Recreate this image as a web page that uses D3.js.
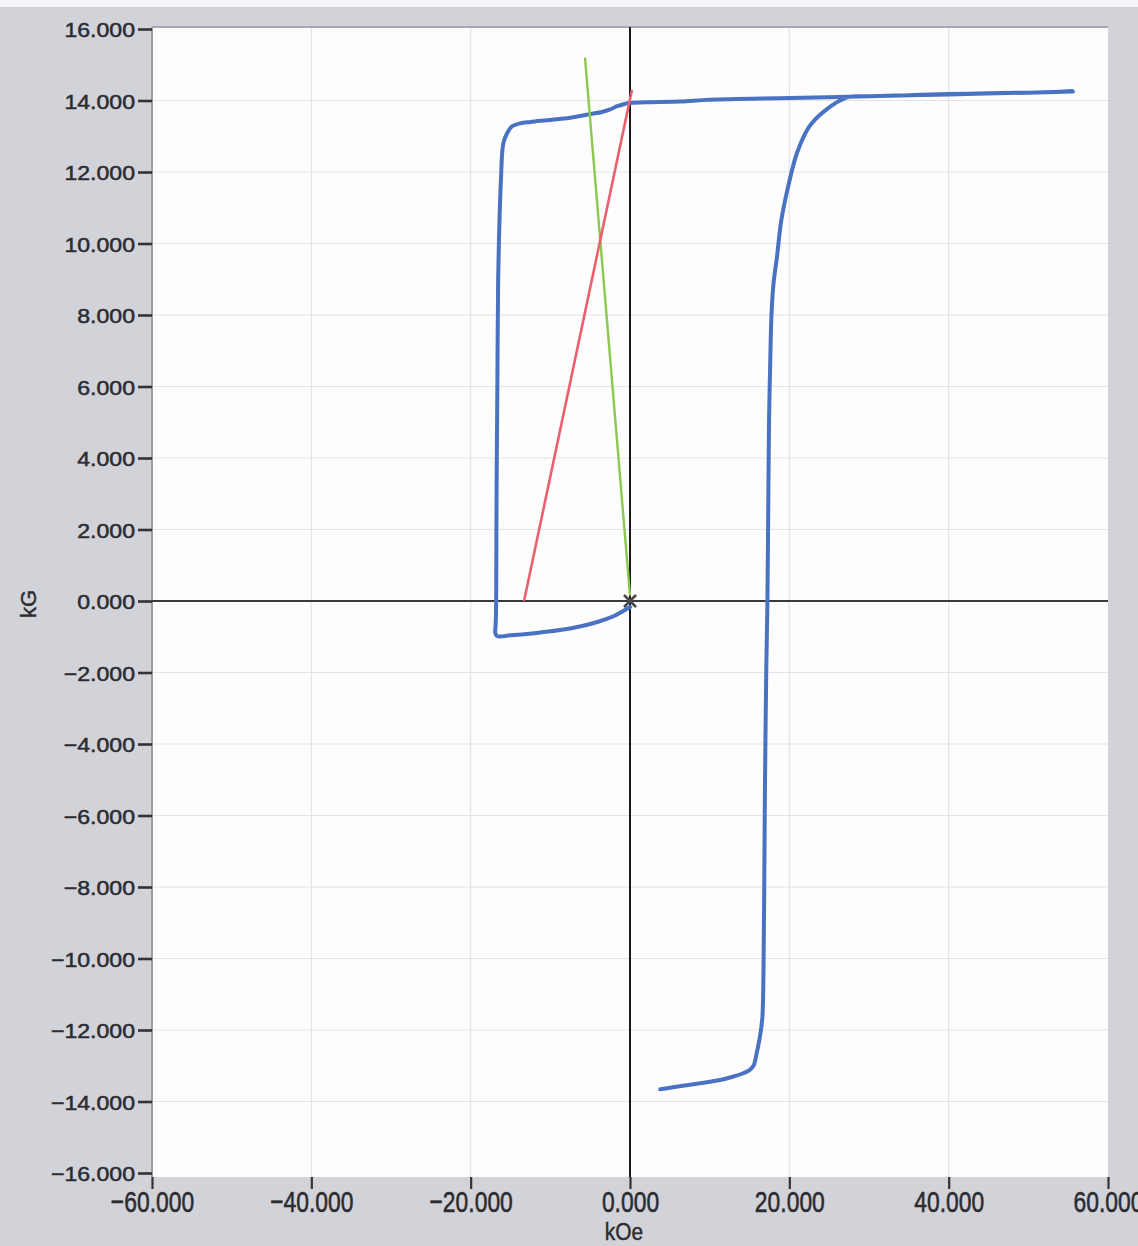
<!DOCTYPE html>
<html>
<head>
<meta charset="utf-8">
<script src="https://cdn.jsdelivr.net/npm/d3@7"></script>
<style>
  html, body { margin: 0; padding: 0; background: #ffffff; }
  svg { display: block; }
</style>
</head>
<body>
<div id="chart"></div>
<script>
// Axis ticks
const xTicks = [-60, -40, -20, 0, 20, 40, 60];
const yTicks = [-16, -14, -12, -10, -8, -6, -4, -2, 0, 2, 4, 6, 8, 10, 12, 14, 16];

// Measured B-H hysteresis loop (field kOe, induction kG), in trace order
const loopH = [3.8, 6.0, 8.8, 11.3, 13.0, 14.2, 15.0, 15.5, 15.9, 16.3, 16.6, 16.75, 16.85, 16.95, 17.1, 17.25, 17.35, 17.45, 17.58, 17.76, 18.0, 18.45, 19.0, 19.85, 20.97, 22.5, 24.6, 27.2, 30, 35, 40, 45, 50, 55.6,
               50, 40, 30, 20, 10, 6.3, 2, 0, -0.4, -1.0, -1.6, -2.5, -3.5, -5.0, -7.5, -10.4, -12.5, -13.8, -14.8, -15.4, -15.9, -16.2, -16.4, -16.55, -16.65, -16.75, -16.8, -16.85, -16.9, -16.7, -15, -12, -9, -6, -4, -2, -1, 0];
const loopB = [-13.66, -13.58, -13.49, -13.40, -13.30, -13.21, -13.12, -13.0, -12.65, -12.2, -11.7, -10.5, -8, -5, -2, 0, 2.5, 5.0, 6.45, 8.0, 8.85, 9.63, 10.66, 11.59, 12.54, 13.27, 13.74, 14.08, 14.12, 14.15, 14.18, 14.2, 14.22, 14.25,
               14.22, 14.17, 14.12, 14.07, 14.02, 13.97, 13.95, 13.93, 13.92, 13.88, 13.84, 13.75, 13.68, 13.62, 13.52, 13.45, 13.40, 13.36, 13.28, 13.1, 12.8, 11.78, 10.5, 9, 6, 3, 0, -0.6, -0.9, -0.98, -0.96, -0.9, -0.82, -0.7, -0.58, -0.42, -0.3, -0.17];

// Recoil / load lines
const redH = [-13.3, 0.25];
const redB = [0, 14.3];
const greenH = [-5.65, 0];
const greenB = [15.2, 0.15];

const W = 1138, Hgt = 1246;
const plot = { left: 152, right: 1108, top: 27, bottom: 1177 };
const FONT = "'Liberation Sans', Arial, sans-serif";
const INK = "#2b2b30";

const svg = d3.select("#chart").append("svg")
  .attr("width", W).attr("height", Hgt);

// page background
svg.append("rect").attr("x", 0).attr("y", 0).attr("width", W).attr("height", Hgt).attr("fill", "#d2d2d9");
svg.append("rect").attr("x", 0).attr("y", 0).attr("width", W).attr("height", 7).attr("fill", "#f4f4f6");

const x = d3.scaleLinear().domain([-60, 60]).range([plot.left, plot.right]);
const y = d3.scaleLinear().domain([-16, 16]).range([1173, 29]);

// plot area
svg.append("rect")
  .attr("x", plot.left).attr("y", plot.top)
  .attr("width", plot.right - plot.left).attr("height", plot.bottom - plot.top)
  .attr("fill", "#fdfdfd");

// grid
const grid = svg.append("g").attr("stroke", "#e4e4e8").attr("stroke-width", 1.2);
grid.selectAll("line.v").data(xTicks.filter(d => d !== 0 && Math.abs(d) !== 60)).join("line")
  .attr("x1", d => x(d)).attr("x2", d => x(d))
  .attr("y1", plot.top).attr("y2", plot.bottom);
grid.selectAll("line.h").data(yTicks.filter(d => d !== 0 && Math.abs(d) !== 16)).join("line")
  .attr("x1", plot.left).attr("x2", plot.right)
  .attr("y1", d => y(d)).attr("y2", d => y(d));

// plot frame (left and top edges)
svg.append("line").attr("x1", plot.left).attr("x2", plot.left).attr("y1", plot.top).attr("y2", plot.bottom)
  .attr("stroke", "#9c9ca6").attr("stroke-width", 2);
svg.append("line").attr("x1", plot.left).attr("x2", plot.right).attr("y1", plot.top).attr("y2", plot.top)
  .attr("stroke", "#a8a8b0").attr("stroke-width", 2);

// zero lines
svg.append("line").attr("x1", plot.left).attr("x2", plot.right).attr("y1", y(0)).attr("y2", y(0))
  .attr("stroke", "#3a3a3a").attr("stroke-width", 2);
svg.append("line").attr("x1", x(0)).attr("x2", x(0)).attr("y1", plot.top).attr("y2", plot.bottom)
  .attr("stroke", "#1a1a1a").attr("stroke-width", 2);

const fmt = d3.format(".3f");

// y axis
const yAxis = svg.append("g")
  .attr("transform", `translate(${plot.left},0)`)
  .call(d3.axisLeft(y).tickValues(yTicks).tickSize(14).tickFormat(fmt));
yAxis.select(".domain").remove();
yAxis.selectAll(".tick line").attr("stroke", "#333").attr("stroke-width", 2.6);
yAxis.selectAll(".tick text")
  .attr("x", 0).attr("dy", "0.36em")
  .attr("transform", "translate(-17,0) scale(1.1,1)")
  .attr("fill", INK).attr("stroke", INK).attr("stroke-width", 0.5)
  .style("font-family", FONT)
  .style("font-size", "21px");

// x axis
const xAxis = svg.append("g")
  .attr("transform", `translate(0,${plot.bottom})`)
  .call(d3.axisBottom(x).tickValues(xTicks).tickSize(12).tickFormat(fmt));
xAxis.select(".domain").remove();
xAxis.selectAll(".tick line").attr("stroke", "#333").attr("stroke-width", 2.2);
xAxis.selectAll(".tick text")
  .attr("y", 0).attr("dy", 0)
  .attr("transform", "translate(0,35) scale(0.88,1.17)")
  .attr("fill", INK).attr("stroke", INK).attr("stroke-width", 0.5)
  .style("font-family", FONT)
  .style("font-size", "26px");

// axis titles
svg.append("text")
  .attr("transform", "translate(624,1240) scale(0.95,1.1)")
  .attr("text-anchor", "middle")
  .attr("fill", INK).attr("stroke", INK).attr("stroke-width", 0.4)
  .style("font-family", FONT)
  .style("font-size", "22px")
  .text("kOe");
svg.append("text")
  .attr("transform", "translate(36,604) rotate(-90)")
  .attr("text-anchor", "middle")
  .attr("fill", INK).attr("stroke", INK).attr("stroke-width", 0.4)
  .style("font-family", FONT)
  .style("font-size", "22px")
  .text("kG");

// series
const line = d3.line().x(d => x(d[0])).y(d => y(d[1]));
const loop = loopH.map((h, i) => [h, loopB[i]]);
const red = redH.map((h, i) => [h, redB[i]]);
const green = greenH.map((h, i) => [h, greenB[i]]);

svg.append("path").datum(loop).attr("d", line.curve(d3.curveCatmullRom.alpha(0.5)))
  .attr("fill", "none").attr("stroke", "#4a72c2").attr("stroke-width", 4)
  .attr("stroke-linejoin", "round").attr("stroke-linecap", "round");

line.curve(d3.curveLinear);
svg.append("path").datum(green).attr("d", line)
  .attr("fill", "none").attr("stroke", "#8cc850").attr("stroke-width", 2.4);
svg.append("path").datum(red).attr("d", line)
  .attr("fill", "none").attr("stroke", "#ea5f6c").attr("stroke-width", 2.6);

// origin marker
const mk = svg.append("g").attr("transform", `translate(${x(0)},${y(0)})`)
  .attr("stroke", "#4a4a4a").attr("stroke-width", 2.6);
mk.append("line").attr("x1", -6).attr("y1", -6).attr("x2", 6).attr("y2", 6);
mk.append("line").attr("x1", -6).attr("y1", 6).attr("x2", 6).attr("y2", -6);
</script>
</body>
</html>
